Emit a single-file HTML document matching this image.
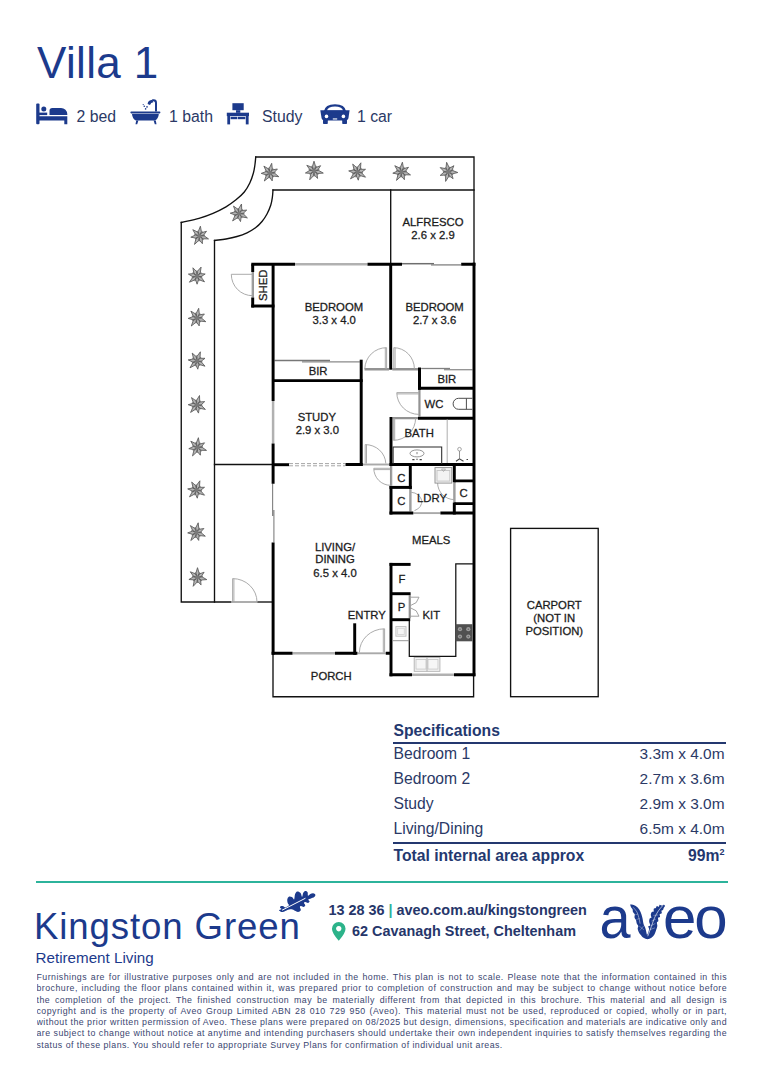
<!DOCTYPE html>
<html><head><meta charset="utf-8"><title>Villa 1</title>
<style>
html,body{margin:0;padding:0;background:#fff;}
body{width:764px;height:1080px;position:relative;overflow:hidden;font-family:"Liberation Sans",sans-serif;color:#2b3966;}
.abs{position:absolute;white-space:nowrap;}
.title{left:37px;top:38.3px;font-size:44px;line-height:50px;letter-spacing:.35px;color:#1c3a8c;}
.feat{font-size:15.8px;line-height:18px;top:107.5px;color:#2b3966;}
.spec{font-size:15.7px;line-height:18px;color:#2b3966;}
.b{font-weight:bold;}
.rule{position:absolute;left:392.5px;width:333px;height:1.8px;background:#24386f;}
.teal{position:absolute;left:36px;width:692px;top:880.7px;height:2px;background:#2cb39b;}
.kg{left:34px;top:902px;font-size:36.6px;line-height:50px;letter-spacing:.9px;color:#1c3a8c;}
.rl{left:35.5px;top:948.8px;font-size:15.2px;line-height:18px;color:#1c3a8c;}
.ct{font-size:14.4px;line-height:16px;font-weight:bold;color:#26366a;}
.dl{position:absolute;left:36.5px;width:690.5px;font-size:8.8px;letter-spacing:.46px;line-height:11.25px;height:11.25px;text-align:justify;text-align-last:justify;white-space:nowrap;color:#3a4670;overflow:hidden}
.dl.last{text-align:left;text-align-last:left;width:auto;}
.aveo{font-size:60px;line-height:60px;color:#1c3a8c;}
</style></head><body>
<svg width="764" height="1080" viewBox="0 0 764 1080" style="position:absolute;left:0;top:0">
<g fill="none" stroke="#111" stroke-width="1.35" stroke-linecap="square" stroke-linejoin="miter">
<path d="M474,263 V157 H255.75"/>
<path d="M255.75,157.00 C255.47,159.67 255.29,162.33 254.90,165.00 C254.51,167.67 254.25,170.00 253.40,173.00 C252.55,176.00 251.32,179.83 249.80,183.00 C248.28,186.17 246.60,189.20 244.30,192.00 C242.00,194.80 239.05,197.33 236.00,199.80 C232.95,202.27 229.83,204.55 226.00,206.80 C222.17,209.05 217.50,211.38 213.00,213.30 C208.50,215.22 204.29,216.77 199.00,218.30 C193.71,219.83 187.17,221.10 181.25,222.50"/>
<path d="M181.25,222.5 V602 H231"/>
<path d="M257.5,602 H272.5"/>
<path d="M474,190 H273"/>
<path d="M273.00,190.00 C272.80,192.33 272.77,194.50 272.40,197.00 C272.03,199.50 271.70,202.17 270.80,205.00 C269.90,207.83 268.47,211.25 267.00,214.00 C265.53,216.75 263.92,219.20 262.00,221.50 C260.08,223.80 258.00,225.92 255.50,227.80 C253.00,229.68 250.08,231.35 247.00,232.80 C243.92,234.25 240.50,235.47 237.00,236.50 C233.50,237.53 229.75,238.33 226.00,239.00 C222.25,239.67 218.33,240.00 214.50,240.50"/>
<path d="M214.5,240.5 V602"/>
<path d="M214.5,464.5 H272.5"/>
<path d="M390.7,190 V263"/>
<path d="M273,653 V696.7 H473.6 V676"/>
<rect x="510.6" y="528.4" width="87.6" height="168.3"/>
</g>
<g fill="none" stroke="#b1b1b1" stroke-width="2.5">
<path d="M295,264.2 H367.5"/>
<path d="M273.1,401 V443.5"/>
<path d="M412,674.8 H454"/>
<path d="M292.5,653.3 H335"/>
</g>
<g fill="none" stroke="#a9a9a9" stroke-width="1.9">
<path d="M362.9,464.5 H389.5"/>
<path d="M413.3,513.1 H440.4"/>
<path d="M357.4,653.3 H385.8"/>
<path d="M231.25,602 H257.5"/>
</g>
<g fill="none" stroke="#858585" stroke-width="1.15">
<path d="M272.6,483.5 V516 M273.9,510 V542.5"/>
</g>
<g fill="none" stroke="#939393" stroke-width="1.1">
<path d="M402,263.7 H434" stroke="#6e6e6e" stroke-width="1.5"/><path d="M431,264.9 H461.2" stroke="#8a8a8a" stroke-width="1.4"/>
<path d="M274.5,360.5 H330" stroke="#777" stroke-width="1.3"/><path d="M302,361.8 H359.8" stroke="#8a8a8a" stroke-width="1.3"/>
<path d="M421.2,368.5 H450" stroke="#808080" stroke-width="1.3"/><path d="M444,369.7 H472.5" stroke="#909090" stroke-width="1.3"/>
<path d="M364.5,368.6 H389 M392.3,368.6 H418 M364.5,369.9 H389 M392.3,369.9 H418"/>
<path d="M418.9,390 V416.5 M420,390 V416.5"/>
<path d="M392.6,417.6 H418 M392.6,418.8 H418"/>
<path d="M252.2,272 V297.6 M253.4,272 V297.6"/>
<path d="M390.5,466 V485.8 M391.7,466 V485.8"/>
<path d="M409.8,489 V511.5 M411,489 V511.5"/>
<path d="M453.8,482.2 V502.4 M455,482.2 V502.4"/>
<path d="M409.2,595.3 V618.2 M410.3,595.3 V618.2"/>
</g>
<path d="M289,463.6 H345.2 M289,465.8 H345.2" stroke="#9c9c9c" stroke-width="0.9" stroke-dasharray="4,2" fill="none"/>
<g fill="none" stroke="#a2a2a2" stroke-width="0.9">
<path d="M386.6,369 V347.7 A21.6,21.6 0 0 0 364.8,369"/><path d="M385.3,369 V347.7"/>
<path d="M393.8,369 V347.7 A20.6,21.3 0 0 1 414.4,369"/><path d="M395.1,369 V347.7"/>
<path d="M419,392.6 H396.8 A22.2,21.8 0 0 0 419,414.4"/><path d="M419,393.9 H396.8"/>
<path d="M393.4,418 V440.3 A22.2,22.2 0 0 0 415.6,418"/><path d="M394.7,418 V440.3"/>
<path d="M365.2,463.5 V444.6 A20.6,19.6 0 0 1 385.8,463.5"/><path d="M366.5,463.5 V444.6"/>
<path d="M390.4,468.3 H373.8 A16.6,17 0 0 0 390.4,485.3"/><path d="M390.4,469.6 H373.8"/>
<path d="M411.2,492.3 A11.5,9.5 0 0 1 414.5,510.6"/>
<path d="M437.6,482.8 A16.7,16.8 0 0 0 454.3,499.6"/>
<path d="M384.6,652.5 V628.8 A25.2,23.7 0 0 0 359.4,652.5"/><path d="M383.3,652.5 V628.8"/>
<path d="M232.6,602 V578.6 A24.4,23.4 0 0 1 257,602"/><path d="M233.9,602 V578.6"/>
<path d="M252.5,274.3 H231.3 A21.2,21.4 0 0 0 252.5,295.7"/>
</g>
<g fill="none" stroke="#000" stroke-width="2.95" stroke-linecap="butt">
<path d="M251.3,264.2 H295"/>
<path d="M252.7,264.2 V272 M252.7,297.6 V307.4"/>
<path d="M251.3,306 H274.5"/>
<path d="M273.1,264.2 V401 M273.1,443.5 V483.75 M273.1,542.5 V654.8"/>
<path d="M367.5,264.2 H402 M461.2,264.2 H475.4"/>
<path d="M474,262.7 V676.3"/>
<path d="M390.7,264.2 V369.7"/>
<path d="M273.1,380.6 H362.7"/>
<path d="M361.2,359.7 V466"/>
<path d="M419.5,367.5 V389.8"/>
<path d="M418,388.3 H474"/>
<path d="M418,418.2 H474"/>
<path d="M391,417 V466 M391,485.9 V514.6"/>
<path d="M345.5,464.5 H362.7 M389.5,464.5 H474"/>
<path d="M273.1,464.7 H289"/>
<path d="M410.3,464.5 V488.9"/>
<path d="M389.5,487.4 H411.8"/>
<path d="M389.5,513.1 H413.3 M440.4,513.1 H474"/>
<path d="M454.3,464.5 V482.2 M454.3,502.4 V514.6"/>
<path d="M391,562.9 V676.3"/>
<path d="M389.5,564.4 H410.6"/>
<path d="M391,593.7 H410.6"/>
<path d="M391,619.7 H410.2"/>
<path d="M389.5,674.8 H412 M454,674.8 H475.4"/>
<path d="M354.7,623.3 V654.8"/>
<path d="M271.6,653.3 H292.5 M335,653.3 H357.4 M385.8,653.3 H391"/>
</g>
<g fill="none" stroke="#000" stroke-width="2.7">
<path d="M454.3,480.8 H474 M454.3,503.7 H474"/>
</g>
<g fill="none" stroke="#111" stroke-width="1.25">
<path d="M409.3,621 V656.3 H455.8 V563.8 H473"/>
<path d="M393.1,464 V446.9 H441.7 V464" stroke="#2a2a2a" stroke-width="1.05"/>
</g>
<g fill="none" stroke="#8a8a8a" stroke-width="0.9">
<ellipse cx="417" cy="453.4" rx="7" ry="3.5"/>
<path d="M412.3,459.6 h2.2 M416.3,459.2 h1.4 M419.6,459.6 h2.2" stroke="#444" stroke-width="1.1"/>
<path d="M417,452 v2.2" stroke="#777"/>
<path d="M447.2,419.5 V463" stroke="#b5b5b5" stroke-width="1.1"/>
<circle cx="459.5" cy="449.2" r="1.8" stroke="#999"/><path d="M459.5,451 V458.6" stroke="#888"/><path d="M456,461.2 l3.5,-2.4 4,2.4" stroke="#444" stroke-width="1.1"/><path d="M466.5,459.5 h1.5" stroke="#444" stroke-width="1.1"/>
<path d="M472.5,398.3 H458.6 A5.5,5.5 0 0 0 458.6,409.3 H472.5" stroke="#4d4d4d" stroke-width="1"/>
<path d="M466.4,398.3 V409.3" stroke="#4d4d4d" stroke-width="1"/>
<rect x="435" y="467.6" width="16.8" height="15.5" fill="#f3f3f3" stroke="#8c8c8c"/>
<rect x="437" y="470.5" width="12.8" height="10.6" stroke="#c4c4c4"/>
<path d="M441.5,469 h4 l-2,2.5 z" stroke="#999" stroke-width="0.6"/>
<path d="M392.6,640.7 H409.3" stroke="#8c8c8c"/>
<rect x="395.9" y="626.6" width="10.1" height="9.6" stroke="#bdbdbd" fill="#f5f5f5"/>
<rect x="397.6" y="628.3" width="6.7" height="6.2" stroke="#d5d5d5"/>
<rect x="414.2" y="657.4" width="25.7" height="13.9" fill="#f6f6f6" stroke="#b0b0b0"/>
<rect x="416" y="659.5" width="10" height="9.6" stroke="#c9c9c9"/><rect x="428" y="659.5" width="10" height="9.6" stroke="#c9c9c9"/>
<path d="M427,657.4 V671.3" stroke="#aaa"/>
<path d="M410.5,597.2 H419 L416.2,602.6 L410.8,605.4 M410.5,616.2 H419 L416.2,610.8 L410.8,608" stroke="#9a9a9a"/>
</g>
<rect x="455.4" y="624.2" width="17" height="17.1" fill="#505050"/>
<circle cx="460" cy="629.2" r="2.1" fill="#9d9d9d"/><circle cx="460" cy="629.2" r="0.8" fill="#666"/>
<circle cx="468.3" cy="629.2" r="2.1" fill="#9d9d9d"/><circle cx="468.3" cy="629.2" r="0.8" fill="#666"/>
<circle cx="460" cy="636.6" r="2.1" fill="#9d9d9d"/><circle cx="460" cy="636.6" r="0.8" fill="#666"/>
<circle cx="468.3" cy="636.6" r="2.1" fill="#9d9d9d"/><circle cx="468.3" cy="636.6" r="0.8" fill="#666"/>
<path d="M270.0,173.0 L272.6,171.6 L273.1,168.6 L270.5,170.1 Z" fill="#8c8c8c" stroke="#6a6a6a" stroke-width="0.6"/>
<path d="M270.0,173.0 L272.8,174.1 L275.4,172.7 L272.6,171.6 Z" fill="#8c8c8c" stroke="#6a6a6a" stroke-width="0.6"/>
<path d="M270.0,173.0 L270.8,175.9 L273.6,177.0 L272.7,174.2 Z" fill="#8c8c8c" stroke="#6a6a6a" stroke-width="0.6"/>
<path d="M270.0,173.0 L268.3,175.4 L269.1,178.3 L270.8,175.9 Z" fill="#8c8c8c" stroke="#6a6a6a" stroke-width="0.6"/>
<path d="M270.0,173.0 L267.0,173.2 L265.3,175.6 L268.2,175.4 Z" fill="#8c8c8c" stroke="#6a6a6a" stroke-width="0.6"/>
<path d="M270.0,173.0 L268.0,170.8 L265.0,170.9 L267.0,173.1 Z" fill="#8c8c8c" stroke="#6a6a6a" stroke-width="0.6"/>
<path d="M270.0,173.0 L270.5,170.1 L268.5,167.8 L268.0,170.8 Z" fill="#8c8c8c" stroke="#6a6a6a" stroke-width="0.6"/>
<path d="M270.0,173.0 L272.3,168.9 L271.7,163.3 L269.2,168.4 Z" fill="#b4b4b4" stroke="#575757" stroke-width="0.85" stroke-linejoin="miter"/>
<path d="M270.0,173.0 L274.1,172.6 L277.4,169.0 L272.6,169.8 Z" fill="#b4b4b4" stroke="#575757" stroke-width="0.85" stroke-linejoin="miter"/>
<path d="M270.0,173.0 L273.3,176.1 L278.8,176.7 L274.6,173.2 Z" fill="#b4b4b4" stroke="#575757" stroke-width="0.85" stroke-linejoin="miter"/>
<path d="M270.0,173.0 L269.5,177.0 L272.2,180.9 L272.5,176.1 Z" fill="#b4b4b4" stroke="#575757" stroke-width="0.85" stroke-linejoin="miter"/>
<path d="M270.0,173.0 L266.2,175.7 L264.3,181.0 L268.7,177.5 Z" fill="#b4b4b4" stroke="#575757" stroke-width="0.85" stroke-linejoin="miter"/>
<path d="M270.0,173.0 L266.0,171.6 L261.2,173.4 L266.1,174.8 Z" fill="#b4b4b4" stroke="#575757" stroke-width="0.85" stroke-linejoin="miter"/>
<path d="M270.0,173.0 L268.4,168.9 L263.9,166.1 L266.1,170.9 Z" fill="#b4b4b4" stroke="#575757" stroke-width="0.85" stroke-linejoin="miter"/>
<circle cx="270.0" cy="173.0" r="2" fill="#7a7a7a"/>
<path d="M314.0,171.0 L316.3,169.1 L316.3,166.1 L314.0,168.0 Z" fill="#8c8c8c" stroke="#6a6a6a" stroke-width="0.6"/>
<path d="M314.0,171.0 L316.9,171.6 L319.3,169.8 L316.3,169.2 Z" fill="#8c8c8c" stroke="#6a6a6a" stroke-width="0.6"/>
<path d="M314.0,171.0 L315.3,173.7 L318.2,174.4 L316.9,171.7 Z" fill="#8c8c8c" stroke="#6a6a6a" stroke-width="0.6"/>
<path d="M314.0,171.0 L312.7,173.7 L314.0,176.4 L315.3,173.7 Z" fill="#8c8c8c" stroke="#6a6a6a" stroke-width="0.6"/>
<path d="M314.0,171.0 L311.1,171.7 L309.8,174.4 L312.7,173.7 Z" fill="#8c8c8c" stroke="#6a6a6a" stroke-width="0.6"/>
<path d="M314.0,171.0 L311.7,169.2 L308.7,169.8 L311.1,171.6 Z" fill="#8c8c8c" stroke="#6a6a6a" stroke-width="0.6"/>
<path d="M314.0,171.0 L314.0,168.0 L311.7,166.1 L311.7,169.1 Z" fill="#8c8c8c" stroke="#6a6a6a" stroke-width="0.6"/>
<path d="M314.0,171.0 L315.6,166.6 L314.0,161.2 L312.4,166.6 Z" fill="#b4b4b4" stroke="#575757" stroke-width="0.85" stroke-linejoin="miter"/>
<path d="M314.0,171.0 L317.9,169.9 L320.6,165.7 L316.0,167.4 Z" fill="#b4b4b4" stroke="#575757" stroke-width="0.85" stroke-linejoin="miter"/>
<path d="M314.0,171.0 L317.8,173.5 L323.3,173.1 L318.5,170.4 Z" fill="#b4b4b4" stroke="#575757" stroke-width="0.85" stroke-linejoin="miter"/>
<path d="M314.0,171.0 L314.2,175.0 L317.6,178.4 L317.0,173.7 Z" fill="#b4b4b4" stroke="#575757" stroke-width="0.85" stroke-linejoin="miter"/>
<path d="M314.0,171.0 L310.7,174.3 L309.7,179.8 L313.5,175.7 Z" fill="#b4b4b4" stroke="#575757" stroke-width="0.85" stroke-linejoin="miter"/>
<path d="M314.0,171.0 L309.8,170.4 L305.4,173.0 L310.5,173.4 Z" fill="#b4b4b4" stroke="#575757" stroke-width="0.85" stroke-linejoin="miter"/>
<path d="M314.0,171.0 L311.7,167.2 L306.8,165.3 L309.8,169.6 Z" fill="#b4b4b4" stroke="#575757" stroke-width="0.85" stroke-linejoin="miter"/>
<circle cx="314.0" cy="171.0" r="2" fill="#7a7a7a"/>
<path d="M357.5,172.0 L360.3,171.0 L361.4,168.2 L358.5,169.2 Z" fill="#8c8c8c" stroke="#6a6a6a" stroke-width="0.6"/>
<path d="M357.5,172.0 L360.0,173.6 L362.8,172.7 L360.3,171.1 Z" fill="#8c8c8c" stroke="#6a6a6a" stroke-width="0.6"/>
<path d="M357.5,172.0 L357.8,175.0 L360.3,176.6 L360.0,173.6 Z" fill="#8c8c8c" stroke="#6a6a6a" stroke-width="0.6"/>
<path d="M357.5,172.0 L355.4,174.1 L355.7,177.1 L357.8,175.0 Z" fill="#8c8c8c" stroke="#6a6a6a" stroke-width="0.6"/>
<path d="M357.5,172.0 L354.5,171.7 L352.4,173.7 L355.4,174.1 Z" fill="#8c8c8c" stroke="#6a6a6a" stroke-width="0.6"/>
<path d="M357.5,172.0 L355.9,169.5 L353.0,169.1 L354.5,171.6 Z" fill="#8c8c8c" stroke="#6a6a6a" stroke-width="0.6"/>
<path d="M357.5,172.0 L358.5,169.2 L357.0,166.6 L356.0,169.4 Z" fill="#8c8c8c" stroke="#6a6a6a" stroke-width="0.6"/>
<path d="M357.5,172.0 L360.5,168.4 L360.9,162.8 L357.5,167.3 Z" fill="#b4b4b4" stroke="#575757" stroke-width="0.85" stroke-linejoin="miter"/>
<path d="M357.5,172.0 L361.6,172.3 L365.5,169.3 L360.6,169.3 Z" fill="#b4b4b4" stroke="#575757" stroke-width="0.85" stroke-linejoin="miter"/>
<path d="M357.5,172.0 L360.2,175.6 L365.5,177.2 L361.9,173.0 Z" fill="#b4b4b4" stroke="#575757" stroke-width="0.85" stroke-linejoin="miter"/>
<path d="M357.5,172.0 L356.3,175.8 L358.3,180.2 L359.4,175.5 Z" fill="#b4b4b4" stroke="#575757" stroke-width="0.85" stroke-linejoin="miter"/>
<path d="M357.5,172.0 L353.2,174.0 L350.5,178.8 L355.4,176.2 Z" fill="#b4b4b4" stroke="#575757" stroke-width="0.85" stroke-linejoin="miter"/>
<path d="M357.5,172.0 L353.8,170.0 L348.7,170.9 L353.4,173.1 Z" fill="#b4b4b4" stroke="#575757" stroke-width="0.85" stroke-linejoin="miter"/>
<path d="M357.5,172.0 L356.7,167.6 L352.7,164.1 L354.0,169.3 Z" fill="#b4b4b4" stroke="#575757" stroke-width="0.85" stroke-linejoin="miter"/>
<circle cx="357.5" cy="172.0" r="2" fill="#7a7a7a"/>
<path d="M401.5,172.0 L404.0,170.3 L404.3,167.4 L401.8,169.0 Z" fill="#8c8c8c" stroke="#6a6a6a" stroke-width="0.6"/>
<path d="M401.5,172.0 L404.3,172.9 L406.8,171.3 L404.0,170.4 Z" fill="#8c8c8c" stroke="#6a6a6a" stroke-width="0.6"/>
<path d="M401.5,172.0 L402.6,174.8 L405.4,175.7 L404.3,172.9 Z" fill="#8c8c8c" stroke="#6a6a6a" stroke-width="0.6"/>
<path d="M401.5,172.0 L400.0,174.6 L401.0,177.4 L402.5,174.8 Z" fill="#8c8c8c" stroke="#6a6a6a" stroke-width="0.6"/>
<path d="M401.5,172.0 L398.6,172.4 L397.0,175.0 L400.0,174.6 Z" fill="#8c8c8c" stroke="#6a6a6a" stroke-width="0.6"/>
<path d="M401.5,172.0 L399.3,170.0 L396.4,170.3 L398.5,172.4 Z" fill="#8c8c8c" stroke="#6a6a6a" stroke-width="0.6"/>
<path d="M401.5,172.0 L401.7,169.0 L399.6,167.0 L399.4,169.9 Z" fill="#8c8c8c" stroke="#6a6a6a" stroke-width="0.6"/>
<path d="M401.5,172.0 L403.4,167.7 L402.4,162.2 L400.3,167.5 Z" fill="#b4b4b4" stroke="#575757" stroke-width="0.85" stroke-linejoin="miter"/>
<path d="M401.5,172.0 L405.5,171.2 L408.5,167.3 L403.8,168.6 Z" fill="#b4b4b4" stroke="#575757" stroke-width="0.85" stroke-linejoin="miter"/>
<path d="M401.5,172.0 L405.1,174.8 L410.5,174.9 L406.1,171.8 Z" fill="#b4b4b4" stroke="#575757" stroke-width="0.85" stroke-linejoin="miter"/>
<path d="M401.5,172.0 L401.3,176.0 L404.4,179.7 L404.3,174.9 Z" fill="#b4b4b4" stroke="#575757" stroke-width="0.85" stroke-linejoin="miter"/>
<path d="M401.5,172.0 L397.9,175.0 L396.5,180.4 L400.6,176.6 Z" fill="#b4b4b4" stroke="#575757" stroke-width="0.85" stroke-linejoin="miter"/>
<path d="M401.5,172.0 L397.4,171.0 L392.8,173.2 L397.8,174.1 Z" fill="#b4b4b4" stroke="#575757" stroke-width="0.85" stroke-linejoin="miter"/>
<path d="M401.5,172.0 L399.6,168.0 L394.8,165.7 L397.4,170.3 Z" fill="#b4b4b4" stroke="#575757" stroke-width="0.85" stroke-linejoin="miter"/>
<circle cx="401.5" cy="172.0" r="2" fill="#7a7a7a"/>
<path d="M448.3,172.0 L450.3,169.8 L449.8,166.8 L447.8,169.1 Z" fill="#8c8c8c" stroke="#6a6a6a" stroke-width="0.6"/>
<path d="M448.3,172.0 L451.3,172.1 L453.3,169.9 L450.3,169.8 Z" fill="#8c8c8c" stroke="#6a6a6a" stroke-width="0.6"/>
<path d="M448.3,172.0 L450.1,174.4 L453.0,174.6 L451.3,172.2 Z" fill="#8c8c8c" stroke="#6a6a6a" stroke-width="0.6"/>
<path d="M448.3,172.0 L447.5,174.9 L449.2,177.3 L450.0,174.4 Z" fill="#8c8c8c" stroke="#6a6a6a" stroke-width="0.6"/>
<path d="M448.3,172.0 L445.6,173.2 L444.7,176.0 L447.5,174.9 Z" fill="#8c8c8c" stroke="#6a6a6a" stroke-width="0.6"/>
<path d="M448.3,172.0 L445.7,170.6 L442.9,171.7 L445.5,173.1 Z" fill="#8c8c8c" stroke="#6a6a6a" stroke-width="0.6"/>
<path d="M448.3,172.0 L447.8,169.1 L445.2,167.6 L445.7,170.6 Z" fill="#8c8c8c" stroke="#6a6a6a" stroke-width="0.6"/>
<path d="M448.3,172.0 L449.1,167.4 L446.6,162.3 L446.0,167.9 Z" fill="#b4b4b4" stroke="#575757" stroke-width="0.85" stroke-linejoin="miter"/>
<path d="M448.3,172.0 L452.0,170.2 L453.9,165.7 L449.6,168.1 Z" fill="#b4b4b4" stroke="#575757" stroke-width="0.85" stroke-linejoin="miter"/>
<path d="M448.3,172.0 L452.5,173.8 L457.8,172.5 L452.7,170.6 Z" fill="#b4b4b4" stroke="#575757" stroke-width="0.85" stroke-linejoin="miter"/>
<path d="M448.3,172.0 L449.2,175.9 L453.1,178.7 L451.7,174.1 Z" fill="#b4b4b4" stroke="#575757" stroke-width="0.85" stroke-linejoin="miter"/>
<path d="M448.3,172.0 L445.6,175.8 L445.6,181.4 L448.6,176.7 Z" fill="#b4b4b4" stroke="#575757" stroke-width="0.85" stroke-linejoin="miter"/>
<path d="M448.3,172.0 L444.0,172.1 L440.2,175.4 L445.3,175.0 Z" fill="#b4b4b4" stroke="#575757" stroke-width="0.85" stroke-linejoin="miter"/>
<path d="M448.3,172.0 L445.4,168.6 L440.2,167.6 L443.9,171.4 Z" fill="#b4b4b4" stroke="#575757" stroke-width="0.85" stroke-linejoin="miter"/>
<circle cx="448.3" cy="172.0" r="2" fill="#7a7a7a"/>
<path d="M239.0,213.5 L241.7,212.3 L242.5,209.4 L239.8,210.6 Z" fill="#8c8c8c" stroke="#6a6a6a" stroke-width="0.6"/>
<path d="M239.0,213.5 L241.6,214.9 L244.4,213.7 L241.7,212.3 Z" fill="#8c8c8c" stroke="#6a6a6a" stroke-width="0.6"/>
<path d="M239.0,213.5 L239.6,216.4 L242.2,217.8 L241.6,214.9 Z" fill="#8c8c8c" stroke="#6a6a6a" stroke-width="0.6"/>
<path d="M239.0,213.5 L237.1,215.8 L237.6,218.7 L239.5,216.4 Z" fill="#8c8c8c" stroke="#6a6a6a" stroke-width="0.6"/>
<path d="M239.0,213.5 L236.0,213.4 L234.1,215.7 L237.0,215.7 Z" fill="#8c8c8c" stroke="#6a6a6a" stroke-width="0.6"/>
<path d="M239.0,213.5 L237.2,211.1 L234.2,211.0 L236.0,213.4 Z" fill="#8c8c8c" stroke="#6a6a6a" stroke-width="0.6"/>
<path d="M239.0,213.5 L239.8,210.6 L238.0,208.2 L237.2,211.1 Z" fill="#8c8c8c" stroke="#6a6a6a" stroke-width="0.6"/>
<path d="M239.0,213.5 L241.7,209.6 L241.5,204.0 L238.6,208.8 Z" fill="#b4b4b4" stroke="#575757" stroke-width="0.85" stroke-linejoin="miter"/>
<path d="M239.0,213.5 L243.1,213.4 L246.7,210.1 L241.8,210.5 Z" fill="#b4b4b4" stroke="#575757" stroke-width="0.85" stroke-linejoin="miter"/>
<path d="M239.0,213.5 L242.0,216.9 L247.4,217.9 L243.5,214.1 Z" fill="#b4b4b4" stroke="#575757" stroke-width="0.85" stroke-linejoin="miter"/>
<path d="M239.0,213.5 L238.1,217.4 L240.5,221.6 L241.2,216.8 Z" fill="#b4b4b4" stroke="#575757" stroke-width="0.85" stroke-linejoin="miter"/>
<path d="M239.0,213.5 L234.9,215.8 L232.6,220.9 L237.3,217.9 Z" fill="#b4b4b4" stroke="#575757" stroke-width="0.85" stroke-linejoin="miter"/>
<path d="M239.0,213.5 L235.1,211.8 L230.2,213.2 L235.0,214.9 Z" fill="#b4b4b4" stroke="#575757" stroke-width="0.85" stroke-linejoin="miter"/>
<path d="M239.0,213.5 L237.8,209.2 L233.5,206.1 L235.3,211.1 Z" fill="#b4b4b4" stroke="#575757" stroke-width="0.85" stroke-linejoin="miter"/>
<circle cx="239.0" cy="213.5" r="2" fill="#7a7a7a"/>
<path d="M199.5,236.0 L202.0,234.3 L202.3,231.4 L199.8,233.0 Z" fill="#8c8c8c" stroke="#6a6a6a" stroke-width="0.6"/>
<path d="M199.5,236.0 L202.3,236.9 L204.8,235.3 L202.0,234.4 Z" fill="#8c8c8c" stroke="#6a6a6a" stroke-width="0.6"/>
<path d="M199.5,236.0 L200.6,238.8 L203.4,239.7 L202.3,236.9 Z" fill="#8c8c8c" stroke="#6a6a6a" stroke-width="0.6"/>
<path d="M199.5,236.0 L198.0,238.6 L199.0,241.4 L200.5,238.8 Z" fill="#8c8c8c" stroke="#6a6a6a" stroke-width="0.6"/>
<path d="M199.5,236.0 L196.6,236.4 L195.0,239.0 L198.0,238.6 Z" fill="#8c8c8c" stroke="#6a6a6a" stroke-width="0.6"/>
<path d="M199.5,236.0 L197.3,234.0 L194.4,234.3 L196.5,236.4 Z" fill="#8c8c8c" stroke="#6a6a6a" stroke-width="0.6"/>
<path d="M199.5,236.0 L199.7,233.0 L197.6,231.0 L197.4,233.9 Z" fill="#8c8c8c" stroke="#6a6a6a" stroke-width="0.6"/>
<path d="M199.5,236.0 L201.4,231.7 L200.4,226.2 L198.3,231.5 Z" fill="#b4b4b4" stroke="#575757" stroke-width="0.85" stroke-linejoin="miter"/>
<path d="M199.5,236.0 L203.5,235.2 L206.5,231.3 L201.8,232.6 Z" fill="#b4b4b4" stroke="#575757" stroke-width="0.85" stroke-linejoin="miter"/>
<path d="M199.5,236.0 L203.1,238.8 L208.5,238.9 L204.1,235.8 Z" fill="#b4b4b4" stroke="#575757" stroke-width="0.85" stroke-linejoin="miter"/>
<path d="M199.5,236.0 L199.3,240.0 L202.4,243.7 L202.3,238.9 Z" fill="#b4b4b4" stroke="#575757" stroke-width="0.85" stroke-linejoin="miter"/>
<path d="M199.5,236.0 L195.9,239.0 L194.5,244.4 L198.6,240.6 Z" fill="#b4b4b4" stroke="#575757" stroke-width="0.85" stroke-linejoin="miter"/>
<path d="M199.5,236.0 L195.4,235.0 L190.8,237.2 L195.8,238.1 Z" fill="#b4b4b4" stroke="#575757" stroke-width="0.85" stroke-linejoin="miter"/>
<path d="M199.5,236.0 L197.6,232.0 L192.8,229.7 L195.4,234.3 Z" fill="#b4b4b4" stroke="#575757" stroke-width="0.85" stroke-linejoin="miter"/>
<circle cx="199.5" cy="236.0" r="2" fill="#7a7a7a"/>
<path d="M197.0,276.0 L199.9,275.3 L201.2,272.6 L198.3,273.3 Z" fill="#8c8c8c" stroke="#6a6a6a" stroke-width="0.6"/>
<path d="M197.0,276.0 L199.4,277.8 L202.3,277.1 L199.9,275.3 Z" fill="#8c8c8c" stroke="#6a6a6a" stroke-width="0.6"/>
<path d="M197.0,276.0 L197.1,279.0 L199.4,280.8 L199.3,277.8 Z" fill="#8c8c8c" stroke="#6a6a6a" stroke-width="0.6"/>
<path d="M197.0,276.0 L194.7,277.9 L194.7,280.9 L197.0,279.0 Z" fill="#8c8c8c" stroke="#6a6a6a" stroke-width="0.6"/>
<path d="M197.0,276.0 L194.1,275.4 L191.8,277.3 L194.7,277.9 Z" fill="#8c8c8c" stroke="#6a6a6a" stroke-width="0.6"/>
<path d="M197.0,276.0 L195.7,273.3 L192.7,272.7 L194.1,275.4 Z" fill="#8c8c8c" stroke="#6a6a6a" stroke-width="0.6"/>
<path d="M197.0,276.0 L198.2,273.3 L196.9,270.6 L195.7,273.3 Z" fill="#8c8c8c" stroke="#6a6a6a" stroke-width="0.6"/>
<path d="M197.0,276.0 L200.3,272.7 L201.1,267.1 L197.4,271.3 Z" fill="#b4b4b4" stroke="#575757" stroke-width="0.85" stroke-linejoin="miter"/>
<path d="M197.0,276.0 L201.1,276.6 L205.2,274.0 L200.3,273.6 Z" fill="#b4b4b4" stroke="#575757" stroke-width="0.85" stroke-linejoin="miter"/>
<path d="M197.0,276.0 L199.4,279.9 L204.5,281.8 L201.3,277.4 Z" fill="#b4b4b4" stroke="#575757" stroke-width="0.85" stroke-linejoin="miter"/>
<path d="M197.0,276.0 L195.5,279.7 L197.1,284.2 L198.6,279.7 Z" fill="#b4b4b4" stroke="#575757" stroke-width="0.85" stroke-linejoin="miter"/>
<path d="M197.0,276.0 L192.6,277.6 L189.4,282.2 L194.6,280.0 Z" fill="#b4b4b4" stroke="#575757" stroke-width="0.85" stroke-linejoin="miter"/>
<path d="M197.0,276.0 L193.4,273.6 L188.4,274.1 L192.8,276.7 Z" fill="#b4b4b4" stroke="#575757" stroke-width="0.85" stroke-linejoin="miter"/>
<path d="M197.0,276.0 L196.6,271.6 L192.9,267.8 L193.8,273.0 Z" fill="#b4b4b4" stroke="#575757" stroke-width="0.85" stroke-linejoin="miter"/>
<circle cx="197.0" cy="276.0" r="2" fill="#7a7a7a"/>
<path d="M197.0,318.0 L199.6,316.6 L200.1,313.6 L197.5,315.1 Z" fill="#8c8c8c" stroke="#6a6a6a" stroke-width="0.6"/>
<path d="M197.0,318.0 L199.8,319.1 L202.4,317.7 L199.6,316.6 Z" fill="#8c8c8c" stroke="#6a6a6a" stroke-width="0.6"/>
<path d="M197.0,318.0 L197.8,320.9 L200.6,322.0 L199.7,319.2 Z" fill="#8c8c8c" stroke="#6a6a6a" stroke-width="0.6"/>
<path d="M197.0,318.0 L195.3,320.4 L196.1,323.3 L197.8,320.9 Z" fill="#8c8c8c" stroke="#6a6a6a" stroke-width="0.6"/>
<path d="M197.0,318.0 L194.0,318.2 L192.3,320.6 L195.2,320.4 Z" fill="#8c8c8c" stroke="#6a6a6a" stroke-width="0.6"/>
<path d="M197.0,318.0 L195.0,315.8 L192.0,315.9 L194.0,318.1 Z" fill="#8c8c8c" stroke="#6a6a6a" stroke-width="0.6"/>
<path d="M197.0,318.0 L197.5,315.1 L195.5,312.8 L195.0,315.8 Z" fill="#8c8c8c" stroke="#6a6a6a" stroke-width="0.6"/>
<path d="M197.0,318.0 L199.3,313.9 L198.7,308.3 L196.2,313.4 Z" fill="#b4b4b4" stroke="#575757" stroke-width="0.85" stroke-linejoin="miter"/>
<path d="M197.0,318.0 L201.1,317.6 L204.4,314.0 L199.6,314.8 Z" fill="#b4b4b4" stroke="#575757" stroke-width="0.85" stroke-linejoin="miter"/>
<path d="M197.0,318.0 L200.3,321.1 L205.8,321.7 L201.6,318.2 Z" fill="#b4b4b4" stroke="#575757" stroke-width="0.85" stroke-linejoin="miter"/>
<path d="M197.0,318.0 L196.5,322.0 L199.2,325.9 L199.5,321.1 Z" fill="#b4b4b4" stroke="#575757" stroke-width="0.85" stroke-linejoin="miter"/>
<path d="M197.0,318.0 L193.2,320.7 L191.3,326.0 L195.7,322.5 Z" fill="#b4b4b4" stroke="#575757" stroke-width="0.85" stroke-linejoin="miter"/>
<path d="M197.0,318.0 L193.0,316.6 L188.2,318.4 L193.1,319.8 Z" fill="#b4b4b4" stroke="#575757" stroke-width="0.85" stroke-linejoin="miter"/>
<path d="M197.0,318.0 L195.4,313.9 L190.9,311.1 L193.1,315.9 Z" fill="#b4b4b4" stroke="#575757" stroke-width="0.85" stroke-linejoin="miter"/>
<circle cx="197.0" cy="318.0" r="2" fill="#7a7a7a"/>
<path d="M197.0,361.0 L199.8,360.0 L200.9,357.2 L198.0,358.2 Z" fill="#8c8c8c" stroke="#6a6a6a" stroke-width="0.6"/>
<path d="M197.0,361.0 L199.5,362.6 L202.3,361.7 L199.8,360.1 Z" fill="#8c8c8c" stroke="#6a6a6a" stroke-width="0.6"/>
<path d="M197.0,361.0 L197.3,364.0 L199.8,365.6 L199.5,362.6 Z" fill="#8c8c8c" stroke="#6a6a6a" stroke-width="0.6"/>
<path d="M197.0,361.0 L194.9,363.1 L195.2,366.1 L197.3,364.0 Z" fill="#8c8c8c" stroke="#6a6a6a" stroke-width="0.6"/>
<path d="M197.0,361.0 L194.0,360.7 L191.9,362.7 L194.9,363.1 Z" fill="#8c8c8c" stroke="#6a6a6a" stroke-width="0.6"/>
<path d="M197.0,361.0 L195.4,358.5 L192.5,358.1 L194.0,360.6 Z" fill="#8c8c8c" stroke="#6a6a6a" stroke-width="0.6"/>
<path d="M197.0,361.0 L198.0,358.2 L196.5,355.6 L195.5,358.4 Z" fill="#8c8c8c" stroke="#6a6a6a" stroke-width="0.6"/>
<path d="M197.0,361.0 L200.0,357.4 L200.4,351.8 L197.0,356.3 Z" fill="#b4b4b4" stroke="#575757" stroke-width="0.85" stroke-linejoin="miter"/>
<path d="M197.0,361.0 L201.1,361.3 L205.0,358.3 L200.1,358.3 Z" fill="#b4b4b4" stroke="#575757" stroke-width="0.85" stroke-linejoin="miter"/>
<path d="M197.0,361.0 L199.7,364.6 L205.0,366.2 L201.4,362.0 Z" fill="#b4b4b4" stroke="#575757" stroke-width="0.85" stroke-linejoin="miter"/>
<path d="M197.0,361.0 L195.8,364.8 L197.8,369.2 L198.9,364.5 Z" fill="#b4b4b4" stroke="#575757" stroke-width="0.85" stroke-linejoin="miter"/>
<path d="M197.0,361.0 L192.7,363.0 L190.0,367.8 L194.9,365.2 Z" fill="#b4b4b4" stroke="#575757" stroke-width="0.85" stroke-linejoin="miter"/>
<path d="M197.0,361.0 L193.3,359.0 L188.2,359.9 L192.9,362.1 Z" fill="#b4b4b4" stroke="#575757" stroke-width="0.85" stroke-linejoin="miter"/>
<path d="M197.0,361.0 L196.2,356.6 L192.2,353.1 L193.5,358.3 Z" fill="#b4b4b4" stroke="#575757" stroke-width="0.85" stroke-linejoin="miter"/>
<circle cx="197.0" cy="361.0" r="2" fill="#7a7a7a"/>
<path d="M197.0,405.0 L199.7,403.8 L200.5,400.9 L197.8,402.1 Z" fill="#8c8c8c" stroke="#6a6a6a" stroke-width="0.6"/>
<path d="M197.0,405.0 L199.6,406.4 L202.4,405.2 L199.7,403.8 Z" fill="#8c8c8c" stroke="#6a6a6a" stroke-width="0.6"/>
<path d="M197.0,405.0 L197.6,407.9 L200.2,409.3 L199.6,406.4 Z" fill="#8c8c8c" stroke="#6a6a6a" stroke-width="0.6"/>
<path d="M197.0,405.0 L195.1,407.3 L195.6,410.2 L197.5,407.9 Z" fill="#8c8c8c" stroke="#6a6a6a" stroke-width="0.6"/>
<path d="M197.0,405.0 L194.0,404.9 L192.1,407.2 L195.0,407.2 Z" fill="#8c8c8c" stroke="#6a6a6a" stroke-width="0.6"/>
<path d="M197.0,405.0 L195.2,402.6 L192.2,402.5 L194.0,404.9 Z" fill="#8c8c8c" stroke="#6a6a6a" stroke-width="0.6"/>
<path d="M197.0,405.0 L197.8,402.1 L196.0,399.7 L195.2,402.6 Z" fill="#8c8c8c" stroke="#6a6a6a" stroke-width="0.6"/>
<path d="M197.0,405.0 L199.7,401.1 L199.5,395.5 L196.6,400.3 Z" fill="#b4b4b4" stroke="#575757" stroke-width="0.85" stroke-linejoin="miter"/>
<path d="M197.0,405.0 L201.1,404.9 L204.7,401.6 L199.8,402.0 Z" fill="#b4b4b4" stroke="#575757" stroke-width="0.85" stroke-linejoin="miter"/>
<path d="M197.0,405.0 L200.0,408.4 L205.4,409.4 L201.5,405.6 Z" fill="#b4b4b4" stroke="#575757" stroke-width="0.85" stroke-linejoin="miter"/>
<path d="M197.0,405.0 L196.1,408.9 L198.5,413.1 L199.2,408.3 Z" fill="#b4b4b4" stroke="#575757" stroke-width="0.85" stroke-linejoin="miter"/>
<path d="M197.0,405.0 L192.9,407.3 L190.6,412.4 L195.3,409.4 Z" fill="#b4b4b4" stroke="#575757" stroke-width="0.85" stroke-linejoin="miter"/>
<path d="M197.0,405.0 L193.1,403.3 L188.2,404.7 L193.0,406.4 Z" fill="#b4b4b4" stroke="#575757" stroke-width="0.85" stroke-linejoin="miter"/>
<path d="M197.0,405.0 L195.8,400.7 L191.5,397.6 L193.3,402.6 Z" fill="#b4b4b4" stroke="#575757" stroke-width="0.85" stroke-linejoin="miter"/>
<circle cx="197.0" cy="405.0" r="2" fill="#7a7a7a"/>
<path d="M197.5,447.5 L200.0,445.8 L200.3,442.9 L197.8,444.5 Z" fill="#8c8c8c" stroke="#6a6a6a" stroke-width="0.6"/>
<path d="M197.5,447.5 L200.3,448.4 L202.8,446.8 L200.0,445.9 Z" fill="#8c8c8c" stroke="#6a6a6a" stroke-width="0.6"/>
<path d="M197.5,447.5 L198.6,450.3 L201.4,451.2 L200.3,448.4 Z" fill="#8c8c8c" stroke="#6a6a6a" stroke-width="0.6"/>
<path d="M197.5,447.5 L196.0,450.1 L197.0,452.9 L198.5,450.3 Z" fill="#8c8c8c" stroke="#6a6a6a" stroke-width="0.6"/>
<path d="M197.5,447.5 L194.6,447.9 L193.0,450.5 L196.0,450.1 Z" fill="#8c8c8c" stroke="#6a6a6a" stroke-width="0.6"/>
<path d="M197.5,447.5 L195.3,445.5 L192.4,445.8 L194.5,447.9 Z" fill="#8c8c8c" stroke="#6a6a6a" stroke-width="0.6"/>
<path d="M197.5,447.5 L197.7,444.5 L195.6,442.5 L195.4,445.4 Z" fill="#8c8c8c" stroke="#6a6a6a" stroke-width="0.6"/>
<path d="M197.5,447.5 L199.4,443.2 L198.4,437.7 L196.3,443.0 Z" fill="#b4b4b4" stroke="#575757" stroke-width="0.85" stroke-linejoin="miter"/>
<path d="M197.5,447.5 L201.5,446.7 L204.5,442.8 L199.8,444.1 Z" fill="#b4b4b4" stroke="#575757" stroke-width="0.85" stroke-linejoin="miter"/>
<path d="M197.5,447.5 L201.1,450.3 L206.5,450.4 L202.1,447.3 Z" fill="#b4b4b4" stroke="#575757" stroke-width="0.85" stroke-linejoin="miter"/>
<path d="M197.5,447.5 L197.3,451.5 L200.4,455.2 L200.3,450.4 Z" fill="#b4b4b4" stroke="#575757" stroke-width="0.85" stroke-linejoin="miter"/>
<path d="M197.5,447.5 L193.9,450.5 L192.5,455.9 L196.6,452.1 Z" fill="#b4b4b4" stroke="#575757" stroke-width="0.85" stroke-linejoin="miter"/>
<path d="M197.5,447.5 L193.4,446.5 L188.8,448.7 L193.8,449.6 Z" fill="#b4b4b4" stroke="#575757" stroke-width="0.85" stroke-linejoin="miter"/>
<path d="M197.5,447.5 L195.6,443.5 L190.8,441.2 L193.4,445.8 Z" fill="#b4b4b4" stroke="#575757" stroke-width="0.85" stroke-linejoin="miter"/>
<circle cx="197.5" cy="447.5" r="2" fill="#7a7a7a"/>
<path d="M196.5,490.0 L199.3,489.0 L200.4,486.2 L197.5,487.2 Z" fill="#8c8c8c" stroke="#6a6a6a" stroke-width="0.6"/>
<path d="M196.5,490.0 L199.0,491.6 L201.8,490.7 L199.3,489.1 Z" fill="#8c8c8c" stroke="#6a6a6a" stroke-width="0.6"/>
<path d="M196.5,490.0 L196.8,493.0 L199.3,494.6 L199.0,491.6 Z" fill="#8c8c8c" stroke="#6a6a6a" stroke-width="0.6"/>
<path d="M196.5,490.0 L194.4,492.1 L194.7,495.1 L196.8,493.0 Z" fill="#8c8c8c" stroke="#6a6a6a" stroke-width="0.6"/>
<path d="M196.5,490.0 L193.5,489.7 L191.4,491.7 L194.4,492.1 Z" fill="#8c8c8c" stroke="#6a6a6a" stroke-width="0.6"/>
<path d="M196.5,490.0 L194.9,487.5 L192.0,487.1 L193.5,489.6 Z" fill="#8c8c8c" stroke="#6a6a6a" stroke-width="0.6"/>
<path d="M196.5,490.0 L197.5,487.2 L196.0,484.6 L195.0,487.4 Z" fill="#8c8c8c" stroke="#6a6a6a" stroke-width="0.6"/>
<path d="M196.5,490.0 L199.5,486.4 L199.9,480.8 L196.5,485.3 Z" fill="#b4b4b4" stroke="#575757" stroke-width="0.85" stroke-linejoin="miter"/>
<path d="M196.5,490.0 L200.6,490.3 L204.5,487.3 L199.6,487.3 Z" fill="#b4b4b4" stroke="#575757" stroke-width="0.85" stroke-linejoin="miter"/>
<path d="M196.5,490.0 L199.2,493.6 L204.5,495.2 L200.9,491.0 Z" fill="#b4b4b4" stroke="#575757" stroke-width="0.85" stroke-linejoin="miter"/>
<path d="M196.5,490.0 L195.3,493.8 L197.3,498.2 L198.4,493.5 Z" fill="#b4b4b4" stroke="#575757" stroke-width="0.85" stroke-linejoin="miter"/>
<path d="M196.5,490.0 L192.2,492.0 L189.5,496.8 L194.4,494.2 Z" fill="#b4b4b4" stroke="#575757" stroke-width="0.85" stroke-linejoin="miter"/>
<path d="M196.5,490.0 L192.8,488.0 L187.7,488.9 L192.4,491.1 Z" fill="#b4b4b4" stroke="#575757" stroke-width="0.85" stroke-linejoin="miter"/>
<path d="M196.5,490.0 L195.7,485.6 L191.7,482.1 L193.0,487.3 Z" fill="#b4b4b4" stroke="#575757" stroke-width="0.85" stroke-linejoin="miter"/>
<circle cx="196.5" cy="490.0" r="2" fill="#7a7a7a"/>
<path d="M196.5,532.5 L199.1,531.1 L199.6,528.1 L197.0,529.6 Z" fill="#8c8c8c" stroke="#6a6a6a" stroke-width="0.6"/>
<path d="M196.5,532.5 L199.3,533.6 L201.9,532.2 L199.1,531.1 Z" fill="#8c8c8c" stroke="#6a6a6a" stroke-width="0.6"/>
<path d="M196.5,532.5 L197.3,535.4 L200.1,536.5 L199.2,533.7 Z" fill="#8c8c8c" stroke="#6a6a6a" stroke-width="0.6"/>
<path d="M196.5,532.5 L194.8,534.9 L195.6,537.8 L197.3,535.4 Z" fill="#8c8c8c" stroke="#6a6a6a" stroke-width="0.6"/>
<path d="M196.5,532.5 L193.5,532.7 L191.8,535.1 L194.7,534.9 Z" fill="#8c8c8c" stroke="#6a6a6a" stroke-width="0.6"/>
<path d="M196.5,532.5 L194.5,530.3 L191.5,530.4 L193.5,532.6 Z" fill="#8c8c8c" stroke="#6a6a6a" stroke-width="0.6"/>
<path d="M196.5,532.5 L197.0,529.6 L195.0,527.3 L194.5,530.3 Z" fill="#8c8c8c" stroke="#6a6a6a" stroke-width="0.6"/>
<path d="M196.5,532.5 L198.8,528.4 L198.2,522.8 L195.7,527.9 Z" fill="#b4b4b4" stroke="#575757" stroke-width="0.85" stroke-linejoin="miter"/>
<path d="M196.5,532.5 L200.6,532.1 L203.9,528.5 L199.1,529.3 Z" fill="#b4b4b4" stroke="#575757" stroke-width="0.85" stroke-linejoin="miter"/>
<path d="M196.5,532.5 L199.8,535.6 L205.3,536.2 L201.1,532.7 Z" fill="#b4b4b4" stroke="#575757" stroke-width="0.85" stroke-linejoin="miter"/>
<path d="M196.5,532.5 L196.0,536.5 L198.7,540.4 L199.0,535.6 Z" fill="#b4b4b4" stroke="#575757" stroke-width="0.85" stroke-linejoin="miter"/>
<path d="M196.5,532.5 L192.7,535.2 L190.8,540.5 L195.2,537.0 Z" fill="#b4b4b4" stroke="#575757" stroke-width="0.85" stroke-linejoin="miter"/>
<path d="M196.5,532.5 L192.5,531.1 L187.7,532.9 L192.6,534.3 Z" fill="#b4b4b4" stroke="#575757" stroke-width="0.85" stroke-linejoin="miter"/>
<path d="M196.5,532.5 L194.9,528.4 L190.4,525.6 L192.6,530.4 Z" fill="#b4b4b4" stroke="#575757" stroke-width="0.85" stroke-linejoin="miter"/>
<circle cx="196.5" cy="532.5" r="2" fill="#7a7a7a"/>
<path d="M197.5,577.5 L199.8,575.6 L199.8,572.6 L197.5,574.5 Z" fill="#8c8c8c" stroke="#6a6a6a" stroke-width="0.6"/>
<path d="M197.5,577.5 L200.4,578.1 L202.8,576.3 L199.8,575.7 Z" fill="#8c8c8c" stroke="#6a6a6a" stroke-width="0.6"/>
<path d="M197.5,577.5 L198.8,580.2 L201.7,580.9 L200.4,578.2 Z" fill="#8c8c8c" stroke="#6a6a6a" stroke-width="0.6"/>
<path d="M197.5,577.5 L196.2,580.2 L197.5,582.9 L198.8,580.2 Z" fill="#8c8c8c" stroke="#6a6a6a" stroke-width="0.6"/>
<path d="M197.5,577.5 L194.6,578.2 L193.3,580.9 L196.2,580.2 Z" fill="#8c8c8c" stroke="#6a6a6a" stroke-width="0.6"/>
<path d="M197.5,577.5 L195.2,575.7 L192.2,576.3 L194.6,578.1 Z" fill="#8c8c8c" stroke="#6a6a6a" stroke-width="0.6"/>
<path d="M197.5,577.5 L197.5,574.5 L195.2,572.6 L195.2,575.6 Z" fill="#8c8c8c" stroke="#6a6a6a" stroke-width="0.6"/>
<path d="M197.5,577.5 L199.1,573.1 L197.5,567.7 L195.9,573.1 Z" fill="#b4b4b4" stroke="#575757" stroke-width="0.85" stroke-linejoin="miter"/>
<path d="M197.5,577.5 L201.4,576.4 L204.1,572.2 L199.5,573.9 Z" fill="#b4b4b4" stroke="#575757" stroke-width="0.85" stroke-linejoin="miter"/>
<path d="M197.5,577.5 L201.3,580.0 L206.8,579.6 L202.0,576.9 Z" fill="#b4b4b4" stroke="#575757" stroke-width="0.85" stroke-linejoin="miter"/>
<path d="M197.5,577.5 L197.7,581.5 L201.1,584.9 L200.5,580.2 Z" fill="#b4b4b4" stroke="#575757" stroke-width="0.85" stroke-linejoin="miter"/>
<path d="M197.5,577.5 L194.2,580.8 L193.2,586.3 L197.0,582.2 Z" fill="#b4b4b4" stroke="#575757" stroke-width="0.85" stroke-linejoin="miter"/>
<path d="M197.5,577.5 L193.3,576.9 L188.9,579.5 L194.0,579.9 Z" fill="#b4b4b4" stroke="#575757" stroke-width="0.85" stroke-linejoin="miter"/>
<path d="M197.5,577.5 L195.2,573.7 L190.3,571.8 L193.3,576.1 Z" fill="#b4b4b4" stroke="#575757" stroke-width="0.85" stroke-linejoin="miter"/>
<circle cx="197.5" cy="577.5" r="2" fill="#7a7a7a"/>
<g font-family="Liberation Sans, sans-serif" font-size="11.3px" fill="#1c1c1c" stroke="#1c1c1c" stroke-width="0.28" text-anchor="middle">
<text x="433" y="226">ALFRESCO</text>
<text x="433" y="239">2.6 x 2.9</text>
<text x="333.9" y="310.5">BEDROOM</text>
<text x="334.2" y="323.6">3.3 x 4.0</text>
<text x="434.6" y="310.5">BEDROOM</text>
<text x="434.6" y="323.6">2.7 x 3.6</text>
<text x="318.1" y="375.2">BIR</text>
<text x="446.8" y="382.6">BIR</text>
<text x="434" y="407.5">WC</text>
<text x="419.2" y="436.9">BATH</text>
<text x="316.8" y="421.2">STUDY</text>
<text x="317.3" y="434">2.9 x 3.0</text>
<text x="401.4" y="482">C</text>
<text x="401.4" y="504.6">C</text>
<text x="463.7" y="497.3">C</text>
<text x="432" y="501.8">LDRY</text>
<text x="431.25" y="544">MEALS</text>
<text x="335" y="550.7">LIVING/</text>
<text x="335" y="563.2">DINING</text>
<text x="335" y="576.5">6.5 x 4.0</text>
<text x="402" y="583">F</text>
<text x="401.4" y="611.4">P</text>
<text x="431.3" y="619.4">KIT</text>
<text x="366.8" y="619.4">ENTRY</text>
<text x="331.25" y="679.7">PORCH</text>
<text x="554.25" y="609">CARPORT</text>
<text x="554.25" y="621.7">(NOT IN</text>
<text x="554.25" y="634.5">POSITION)</text>
<text transform="translate(267.4,285.3) rotate(-90)" x="0" y="0">SHED</text>
</g>
</svg>
<div class="abs title">Villa 1</div>
<svg class="abs" style="left:0;top:0" width="420" height="140" viewBox="0 0 420 140">
<g fill="#1c3a8c">
<!-- bed -->
<rect x="36.2" y="103.5" width="3.3" height="20.7" rx="0.9"/>
<circle cx="43.8" cy="108.9" r="2.5"/>
<path d="M39,112.6 h8.200 v2.500 h-8.200 z"/>
<path d="M49.5,115.100 v-4.300 a2.800,2.800 0 0 1 2.800,-2.800 h8.700 a6.300,6.300 0 0 1 6.300,6.300 v0.800 z"/>
<path d="M39,116.200 h28.300 v8 h-3 v-3.700 h-25.300 z"/>
<!-- bath -->
<rect x="130.4" y="111.4" width="30" height="2" rx="0.8"/>
<path d="M132,114.100 h26.800 q-0.400,4.800 -3.800,6.500 h-19.200 q-3.400,-1.700 -3.800,-6.500 z"/>
<path d="M136.200,120.400 l-0.700,3.900 h1.700 l1.200,-3.900 z M153.600,120.400 l1.200,3.900 h1.700 l-0.700,-3.900 z"/>
<path d="M155,111.600 v-8.800 q0,-1.600 -1.600,-1.600 h-1.200 v-1.900 h1.400 q3.400,0 3.400,3.400 v8.900 z"/>
<path d="M147.600,103.900 q0.300,-3.600 4.800,-4.200 l0.900,2.600 q-2.500,0.300 -3.300,2.600 z"/>
<circle cx="144.300" cy="106.300" r="0.800"/><circle cx="147" cy="106.900" r="0.800"/><circle cx="145.600" cy="108.900" r="0.800"/><circle cx="143.200" cy="104.600" r="0.600"/>
<!-- desk -->
<rect x="232.4" y="103.2" width="11.3" height="7"/>
<rect x="236" y="110.200" width="4.300" height="2.600"/>
<rect x="226.800" y="112.700" width="22.200" height="3.400"/>
<rect x="227.300" y="116" width="2.800" height="8.400"/>
<rect x="245.800" y="116" width="2.800" height="8.400"/>
<rect x="230.600" y="116.800" width="6.800" height="2.400"/>
<rect x="238" y="116.800" width="7.300" height="2.400"/>
<!-- car -->
<path d="M323.800,111.500 Q325,104.200 335,104.200 Q345,104.200 346.200,111.500 Z M326.900,110.600 Q328.300,106.500 335,106.500 Q341.700,106.500 343.100,110.600 Z" fill-rule="evenodd"/>
<path d="M320.300,110.300 H349.600 L348.500,117.800 Q348,120.500 345.400,120.500 H324.600 Q322,120.500 321.500,117.800 Z"/>
<rect x="323" y="119.500" width="4.800" height="4.500" rx="0.800"/>
<rect x="342.200" y="119.500" width="4.800" height="4.500" rx="0.800"/>
</g>
<circle cx="326.500" cy="116.400" r="1.800" fill="#fff"/><circle cx="343.400" cy="116.400" r="1.800" fill="#fff"/>
<rect x="332.800" y="118.400" width="4.400" height="1.100" fill="#fff"/>
</svg>

<div class="abs feat" style="left:76.5px">2 bed</div>
<div class="abs feat" style="left:169px">1 bath</div>
<div class="abs feat" style="left:262px">Study</div>
<div class="abs feat" style="left:357px">1 car</div>

<div class="abs spec b" style="left:393.5px;top:721.5px;color:#24386f">Specifications</div>
<div class="rule" style="top:742.2px"></div>
<div class="abs spec" style="left:393.5px;top:745.4px">Bedroom 1</div>
<div class="abs spec" style="left:393.5px;top:770.4px">Bedroom 2</div>
<div class="abs spec" style="left:393.5px;top:795.4px">Study</div>
<div class="abs spec" style="left:393.5px;top:820.4px">Living/Dining</div>
<div class="abs spec" style="right:39.5px;top:745.4px;font-size:15.45px">3.3m x 4.0m</div>
<div class="abs spec" style="right:39.5px;top:770.4px;font-size:15.45px">2.7m x 3.6m</div>
<div class="abs spec" style="right:39.5px;top:795.4px;font-size:15.45px">2.9m x 3.0m</div>
<div class="abs spec" style="right:39.5px;top:820.4px;font-size:15.45px">6.5m x 4.0m</div>
<div class="rule" style="top:842.3px"></div>
<div class="abs spec b" style="left:393.5px;top:846.7px;color:#24386f">Total internal area approx</div>
<div class="abs spec b" style="right:39.5px;top:846.7px;color:#24386f">99m<span style="font-size:9px;position:relative;top:-5.5px">2</span></div>

<div class="teal"></div>
<div class="abs kg">Kingston Green</div>
<div class="abs rl">Retirement Living</div>
<div class="abs ct" style="left:328.5px;top:901.5px">13 28 36 <span style="color:#2cb39b">|</span> aveo.com.au/kingstongreen</div>
<div class="abs ct" style="left:352px;top:922.7px">62 Cavanagh Street, Cheltenham</div>
<svg class="abs" style="left:0;top:880px" width="764" height="80" viewBox="0 880 764 80">
<g fill="#1c3a8c">
<!-- oak leaf -->
<path d="M278.78,910.34 C279.46,910.82 279.98,911.54 280.80,911.78 C281.62,912.02 282.66,912.05 283.68,911.78 C284.70,911.52 285.60,910.61 286.92,910.20 C288.24,909.79 290.28,909.24 291.60,909.33 C292.92,909.43 293.76,910.34 294.84,910.77 C295.92,911.21 297.08,912.02 298.08,911.93 C299.07,911.83 300.51,911.03 300.81,910.20 C301.11,909.37 299.83,907.65 299.88,906.96 C299.93,906.26 300.47,906.01 301.10,906.02 C301.74,906.03 303.00,907.15 303.69,907.03 C304.39,906.91 305.23,905.97 305.28,905.30 C305.33,904.63 303.96,903.55 303.98,903.00 C304.01,902.45 304.75,901.99 305.42,901.99 C306.09,901.99 307.32,903.12 308.01,903.00 C308.71,902.88 309.55,901.87 309.60,901.27 C309.64,900.67 308.06,899.88 308.30,899.40 C308.54,898.92 310.04,898.77 311.04,898.39 C312.03,898.01 313.56,897.71 314.28,897.10 C315.00,896.48 315.54,895.34 315.36,894.72 C315.18,894.10 314.04,893.46 313.20,893.35 C312.36,893.24 311.18,893.66 310.32,894.07 C309.45,894.48 308.47,896.11 308.01,895.80 C307.56,895.49 308.04,893.02 307.58,892.20 C307.13,891.38 306.00,890.81 305.28,890.90 C304.56,891.00 303.80,891.78 303.26,892.78 C302.72,893.77 302.48,896.83 302.04,896.88 C301.59,896.93 301.40,893.94 300.60,893.06 C299.79,892.19 298.14,891.43 297.21,891.62 C296.29,891.82 295.57,892.92 295.05,894.22 C294.54,895.51 294.63,898.92 294.12,899.40 C293.60,899.88 292.83,897.55 291.96,897.10 C291.08,896.64 289.64,896.28 288.86,896.66 C288.08,897.05 287.47,898.34 287.28,899.40 C287.09,900.45 287.45,902.01 287.71,903.00 C287.97,903.98 289.23,904.56 288.86,905.30 C288.49,906.05 286.40,907.29 285.48,907.46 C284.55,907.63 284.04,906.55 283.32,906.31 C282.60,906.07 281.72,905.83 281.16,906.02 C280.60,906.21 279.90,907.01 279.94,907.46 C279.97,907.92 281.23,908.40 281.38,908.76 C281.52,909.12 281.23,909.36 280.80,909.62 C280.37,909.89 279.46,910.10 278.78,910.34 Z" fill="#1c3a8c"/>
<path d="M282.38,910.05 L305.13,898.39" stroke="#fff" stroke-width="1" fill="none" stroke-linecap="round"/>
</g>
<g font-family="Liberation Sans, sans-serif" font-size="60px" fill="#1c3a8c">
<text transform="translate(599.6,938) scale(0.93,1)" x="0" y="0">a</text>
<text x="663" y="938">e</text>
<text x="694.3" y="938">o</text>
</g>
<!-- decorative v -->
<path d="M630.05,904.58 C631.29,904.74 632.48,904.56 633.75,905.05 C635.02,905.55 636.54,906.43 637.67,907.57 C638.81,908.71 639.80,910.19 640.58,911.89 C641.37,913.59 641.89,915.75 642.39,917.78 C642.89,919.81 643.08,922.36 643.57,924.07 C644.05,925.77 644.84,926.68 645.29,927.99 C645.75,929.30 646.01,930.81 646.32,931.92 C646.62,933.03 646.75,934.67 647.10,934.67 C647.45,934.67 648.11,932.90 648.44,931.92 C648.76,930.94 649.09,929.69 649.07,928.78 C649.04,927.86 648.08,927.01 648.28,926.42 C648.48,925.83 650.09,925.96 650.24,925.24 C650.40,924.52 649.31,923.21 649.22,922.10 C649.13,920.99 649.33,919.29 649.69,918.57 C650.06,917.85 651.24,918.44 651.42,917.78 C651.61,917.13 650.73,915.62 650.79,914.64 C650.86,913.66 651.34,912.39 651.81,911.89 C652.29,911.39 653.29,912.18 653.62,911.65 C653.95,911.13 653.42,909.36 653.78,908.75 C654.13,908.13 655.22,908.42 655.74,907.96 C656.27,907.50 656.40,906.19 656.92,906.00 C657.44,905.80 658.43,906.98 658.88,906.78 C659.34,906.59 659.15,905.02 659.67,904.82 C660.19,904.62 661.31,905.60 662.03,905.60 C662.75,905.60 663.51,904.75 663.99,904.82 C664.47,904.88 664.99,905.47 664.93,906.00 C664.88,906.52 663.99,907.31 663.68,907.96 C663.36,908.62 663.41,909.47 663.05,909.93 C662.68,910.38 661.69,910.16 661.48,910.71 C661.27,911.26 662.09,912.64 661.79,913.22 C661.49,913.81 659.96,913.62 659.67,914.25 C659.38,914.87 660.32,916.41 660.06,917.00 C659.80,917.58 658.39,917.13 658.10,917.78 C657.81,918.44 658.53,920.14 658.33,920.92 C658.14,921.71 657.09,921.64 656.92,922.49 C656.75,923.35 657.42,924.85 657.31,926.03 C657.21,927.21 656.75,928.19 656.29,929.56 C655.83,930.94 655.38,932.90 654.56,934.28 C653.75,935.65 652.60,937.00 651.42,937.81 C650.24,938.62 648.80,939.15 647.49,939.15 C646.18,939.15 644.72,938.56 643.57,937.81 C642.41,937.07 641.39,935.65 640.58,934.67 C639.77,933.69 639.18,932.90 638.70,931.92 C638.21,930.94 637.75,929.76 637.67,928.78 C637.60,927.80 638.39,926.95 638.22,926.03 C638.05,925.11 637.01,924.26 636.65,923.28 C636.30,922.30 636.46,921.12 636.10,920.14 C635.75,919.16 634.76,918.37 634.53,917.39 C634.31,916.41 635.03,915.16 634.77,914.25 C634.51,913.33 633.33,912.74 632.96,911.89 C632.59,911.04 632.90,909.93 632.57,909.14 C632.24,908.35 631.42,907.94 631.00,907.18 C630.58,906.42 630.37,905.45 630.05,904.58 Z" fill="#1c3a8c"/>
<path d="M647.89,935.85 C649.07,932.71 650.31,929.43 651.42,926.42 C652.53,923.41 653.39,920.40 654.56,917.78 C655.74,915.16 657.18,912.67 658.49,910.71 C659.80,908.75 661.11,907.57 662.42,906.00" stroke="#fff" stroke-width="0.7" fill="none" stroke-linecap="round" opacity="0.9"/>
<path d="M651.81,920.92 C652.99,920.40 654.17,919.88 655.35,919.35" stroke="#fff" stroke-width="0.5" fill="none" stroke-linecap="round" opacity="0.7"/>
<path d="M651.03,925.64 C652.34,924.98 653.65,924.33 654.96,923.67" stroke="#fff" stroke-width="0.5" fill="none" stroke-linecap="round" opacity="0.7"/>
<path d="M650.24,929.56 C651.68,929.04 653.12,928.52 654.56,927.99" stroke="#fff" stroke-width="0.5" fill="none" stroke-linecap="round" opacity="0.7"/>
<path d="M653.78,915.42 C655.09,915.29 656.40,915.16 657.71,915.03" stroke="#fff" stroke-width="0.5" fill="none" stroke-linecap="round" opacity="0.6"/>
<path d="M633.35,907.57 C634.53,909.01 635.97,910.19 636.89,911.89 C637.81,913.59 638.33,915.88 638.85,917.78 C639.38,919.68 639.64,921.45 640.03,923.28" stroke="#fff" stroke-width="0.6" fill="none" stroke-linecap="round" opacity="0.75"/>
<path d="M635.71,914.64 C636.37,914.51 637.02,914.38 637.67,914.25" stroke="#fff" stroke-width="0.5" fill="none" stroke-linecap="round" opacity="0.6"/>
<path d="M636.89,919.35 C637.67,919.09 638.46,918.83 639.25,918.57" stroke="#fff" stroke-width="0.5" fill="none" stroke-linecap="round" opacity="0.6"/>
<path d="M639.64,926.42 C640.95,927.47 642.26,928.52 643.57,929.56" stroke="#fff" stroke-width="0.5" fill="none" stroke-linecap="round" opacity="0.6"/>
<path d="M643.57,926.03 C642.39,927.47 641.21,928.91 640.03,930.35" stroke="#fff" stroke-width="0.5" fill="none" stroke-linecap="round" opacity="0.6"/>

<!-- pin -->
<path d="M338.750,922 a6.800,6.800 0 0 1 6.800,6.800 q0,4.400 -6.800,12 q-6.800,-7.600 -6.800,-12 a6.800,6.800 0 0 1 6.800,-6.800 z M338.750,926 a2.700,2.700 0 1 0 0.010,0 z" fill="#2cb38a" fill-rule="evenodd"/>
</svg>

<div class="dl" style="top:972.1px">Furnishings are for illustrative purposes only and are not included in the home. This plan is not to scale. Please note that the information contained in this</div>
<div class="dl" style="top:983.4px">brochure, including the floor plans contained within it, was prepared prior to completion of construction and may be subject to change without notice before</div>
<div class="dl" style="top:994.6px">the completion of the project. The finished construction may be materially different from that depicted in this brochure. This material and all design is</div>
<div class="dl" style="top:1005.9px">copyright and is the property of Aveo Group Limited ABN 28 010 729 950 (Aveo). This material must not be used, reproduced or copied, wholly or in part,</div>
<div class="dl" style="top:1017.1px">without the prior written permission of Aveo. These plans were prepared on 08/2025 but design, dimensions, specification and materials are indicative only and</div>
<div class="dl" style="top:1028.3px">are subject to change without notice at anytime and intending purchasers should undertake their own independent inquiries to satisfy themselves regarding the</div>
<div class="dl last" style="top:1039.6px">status of these plans. You should refer to appropriate Survey Plans for confirmation of individual unit areas.</div>

</body></html>
